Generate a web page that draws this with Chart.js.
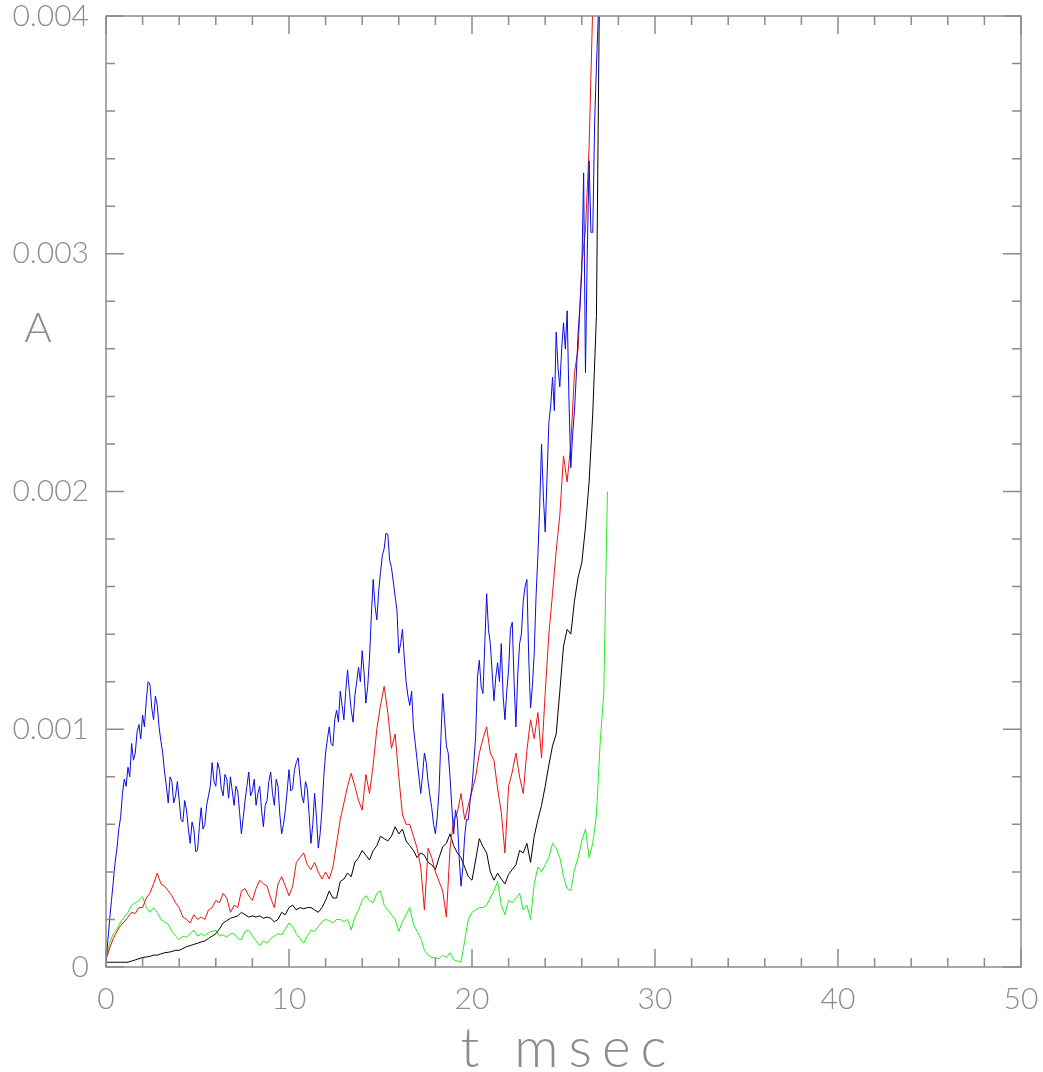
<!DOCTYPE html>
<html>
<head>
<meta charset="utf-8">
<script src="https://cdn.jsdelivr.net/npm/chart.js@4.4.1/dist/chart.umd.min.js"></script>
<style>
  html, body { margin: 0; padding: 0; background: #fff; }
</style>
</head>
<body>
<canvas id="amp" width="1043" height="1072"></canvas>
<script>
// time, msec, one sample every 0.2 msec (red, black, green)
const tGrid = [
  0,0.2,0.4,0.6,0.8, 1,1.2,1.4,1.6,1.8, 2,2.2,2.4,2.6,2.8, 3,3.2,3.4,3.6,3.8,
  4,4.2,4.4,4.6,4.8, 5,5.2,5.4,5.6,5.8, 6,6.2,6.4,6.6,6.8, 7,7.2,7.4,7.6,7.8,
  8,8.2,8.4,8.6,8.8, 9,9.2,9.4,9.6,9.8, 10,10.2,10.4,10.6,10.8, 11,11.2,11.4,11.6,11.8,
  12,12.2,12.4,12.6,12.8, 13,13.2,13.4,13.6,13.8, 14,14.2,14.4,14.6,14.8, 15,15.2,15.4,15.6,15.8,
  16,16.2,16.4,16.6,16.8, 17,17.2,17.4,17.6,17.8, 18,18.2,18.4,18.6,18.8, 19,19.2,19.4,19.6,19.8,
  20,20.2,20.4,20.6,20.8, 21,21.2,21.4,21.6,21.8, 22,22.2,22.4,22.6,22.8, 23,23.2,23.4,23.6,23.8,
  24,24.2,24.4,24.6,24.8, 25,25.2,25.4,25.6,25.8, 26,26.2,26.4,26.6,26.8, 27,27.2,27.4
];
// time, msec, one sample every 0.1 msec (blue, the noisiest trace)
const tFine = [
  0,0.1,0.2,0.3,0.4,0.5,0.6,0.7,0.8,0.9,
  1,1.1,1.2,1.3,1.4,1.5,1.6,1.7,1.8,1.9,
  2,2.1,2.2,2.3,2.4,2.5,2.6,2.7,2.8,2.9,
  3,3.1,3.2,3.3,3.4,3.5,3.6,3.7,3.8,3.9,
  4,4.1,4.2,4.3,4.4,4.5,4.6,4.7,4.8,4.9,
  5,5.1,5.2,5.3,5.4,5.5,5.6,5.7,5.8,5.9,
  6,6.1,6.2,6.3,6.4,6.5,6.6,6.7,6.8,6.9,
  7,7.1,7.2,7.3,7.4,7.5,7.6,7.7,7.8,7.9,
  8,8.1,8.2,8.3,8.4,8.5,8.6,8.7,8.8,8.9,
  9,9.1,9.2,9.3,9.4,9.5,9.6,9.7,9.8,9.9,
  10,10.1,10.2,10.3,10.4,10.5,10.6,10.7,10.8,10.9,
  11,11.1,11.2,11.3,11.4,11.5,11.6,11.7,11.8,11.9,
  12,12.1,12.2,12.3,12.4,12.5,12.6,12.7,12.8,12.9,
  13,13.1,13.2,13.3,13.4,13.5,13.6,13.7,13.8,13.9,
  14,14.1,14.2,14.3,14.4,14.5,14.6,14.7,14.8,14.9,
  15,15.1,15.2,15.3,15.4,15.5,15.6,15.7,15.8,15.9,
  16,16.1,16.2,16.3,16.4,16.5,16.6,16.7,16.8,16.9,
  17,17.1,17.2,17.3,17.4,17.5,17.6,17.7,17.8,17.9,
  18,18.1,18.2,18.3,18.4,18.5,18.6,18.7,18.8,18.9,
  19,19.1,19.2,19.3,19.4,19.5,19.6,19.7,19.8,19.9,
  20,20.1,20.2,20.3,20.4,20.5,20.6,20.7,20.8,20.9,
  21,21.1,21.2,21.3,21.4,21.5,21.6,21.7,21.8,21.9,
  22,22.1,22.2,22.3,22.4,22.5,22.6,22.7,22.8,22.9,
  23,23.1,23.2,23.3,23.4,23.5,23.6,23.7,23.8,23.9,
  24,24.1,24.2,24.3,24.4,24.5,24.6,24.7,24.8,24.9,
  25,25.1,25.2,25.3,25.4,25.5,25.6,25.7,25.8,25.9,
  26,26.1,26.2,26.3,26.4,26.5,26.6,26.7,26.8,26.9,
  27
];

// A values, in units of 1e-4
const blueA = [
  0.2,1.1,2.0,2.8,3.6,4.4,5.0,5.8,6.3,7.3,
  7.9,7.6,8.4,8.0,9.4,8.7,9.0,9.9,10.2,9.6,
  10.6,10.1,11.2,12.0,11.9,10.9,10.4,11.4,11.0,10.1,
  9.5,9.0,8.2,7.6,6.9,8.0,7.8,6.9,7.2,7.8,
  7.0,6.2,6.1,7.0,6.6,5.8,5.2,6.1,5.8,4.85,
  4.9,5.9,6.7,5.8,6.0,6.8,7.2,7.6,8.6,7.8,
  7.6,8.6,8.3,7.5,7.2,8.1,7.9,7.1,8.0,7.4,
  6.8,7.6,7.4,6.5,5.6,6.3,7.0,7.6,8.2,7.2,
  7.4,7.9,6.8,7.3,7.6,6.6,5.9,6.8,7.0,7.8,
  8.2,7.3,6.8,7.9,7.6,6.4,5.6,6.0,6.6,7.4,
  8.3,7.4,7.5,8.3,8.6,8.8,8.0,7.2,6.9,7.8,
  7.5,6.4,5.2,6.0,7.3,6.3,5.0,5.6,6.6,8.0,
  9.0,9.6,10.1,9.4,9.3,10.4,10.8,10.3,11.6,11.0,
  10.4,11.6,12.5,11.6,10.8,10.3,11.4,12.0,12.6,12.0,
  13.3,12.4,11.1,11.8,13.0,14.8,16.3,15.2,14.6,15.8,
  16.6,17.3,17.6,18.25,18.2,17.1,16.8,16.2,15.6,15.0,
  13.2,13.6,14.2,13.0,12.0,11.4,11.0,11.6,10.1,9.4,
  8.7,8.0,7.3,8.1,9.0,8.6,7.8,7.2,6.7,6.0,
  5.6,6.3,7.4,9.6,11.5,10.4,9.3,9.0,8.0,6.7,
  5.6,6.6,6.2,4.6,3.4,4.2,5.5,6.2,6.2,7.0,
  7.6,8.6,9.7,12.2,12.9,11.8,11.5,13.6,15.7,14.2,
  13.6,12.4,11.2,12.2,12.8,12.0,13.6,11.4,10.4,11.6,
  12.5,14.2,14.5,12.0,10.1,12.3,13.6,14.0,15.4,16.0,
  16.3,13.0,10.9,11.8,13.2,15.6,17.3,19.4,22.0,19.8,
  18.3,20.6,22.9,23.6,24.8,23.4,26.7,25.2,24.4,26.0,
  27.1,26.0,27.6,23.8,21.0,22.4,23.4,24.9,26.7,27.8,
  29.3,33.4,25.0,30.1,33.9,30.9,30.9,35.5,37.9,40.0,
  42
];
const redA = [
  0.3,0.8,1.2,1.5,1.75, 1.9,2.1,2.3,2.25,2.5, 2.5,2.9,3.1,3.5,3.95, 3.5,3.4,3.2,3.0,2.7,
  2.5,2.1,2.0,1.85,2.2, 2.0,2.1,2.0,2.4,2.5, 2.8,2.7,3.1,2.9,2.3, 2.6,2.5,3.2,3.3,3.0,
  2.8,3.3,3.65,3.5,3.4, 2.9,2.5,3.5,3.8,3.4, 3.0,3.4,4.4,4.6,4.8, 4.3,4.1,4.4,4.0,3.7,
  4.0,3.7,4.2,5.2,6.2, 6.9,7.6,8.15,7.6,7.0, 6.6,8.1,7.3,8.5,10.0, 11.0,11.8,10.7,9.2,9.8,
  8.0,6.4,6.0,6.0,5.5, 5.0,4.2,2.4,5.0,4.6, 4.0,3.6,3.2,2.1,5.0, 6.2,6.5,7.3,6.2,6.8,
  7.4,8.0,9.0,9.6,10.1, 9.0,8.7,7.5,6.5,4.8, 7.6,8.2,9.0,8.0,7.3, 9.1,10.4,9.6,10.7,8.8,
  11.5,14.0,15.7,17.5,19.0, 21.5,20.4,22.0,25.0,26.0, 29.6,31.0,34.5,40.5,44
];
const blackA = [
  0.2,0.2,0.2,0.2,0.2, 0.2,0.2,0.25,0.3,0.35, 0.4,0.42,0.45,0.5,0.5, 0.55,0.6,0.62,0.65,0.7,
  0.7,0.78,0.85,0.9,0.95, 1.0,1.05,1.1,1.2,1.3, 1.4,1.6,1.85,1.95,2.05, 2.1,2.15,2.3,2.2,2.1,
  2.15,2.1,2.15,2.05,2.1, 2.05,1.9,2.0,2.3,2.2, 2.5,2.6,2.4,2.5,2.45, 2.5,2.5,2.4,2.3,2.5,
  2.8,3.2,2.9,2.9,3.6, 3.7,3.95,3.8,4.4,4.6, 4.9,4.7,4.5,4.9,5.1, 5.5,5.4,5.3,5.5,5.9,
  5.6,5.8,5.3,5.1,4.9, 4.6,4.8,4.7,4.4,4.3, 4.1,4.6,5.06,5.2,5.6, 5.1,4.8,4.6,4.2,3.8,
  3.65,4.5,5.4,5.06,4.8, 4.0,3.65,3.95,3.7,3.5, 3.9,4.1,4.3,4.9,4.8, 5.2,4.4,5.5,6.2,6.8,
  7.6,8.5,9.3,9.8,11.6, 13.5,14.2,14.0,15.4,16.4, 17.0,18.5,20.4,23.3,27.4, 44
];
const greenA = [
  0.4,1.0,1.4,1.6,1.9, 2.1,2.3,2.6,2.7,2.8, 2.95,2.5,2.3,2.5,2.3, 2.0,1.9,1.8,1.5,1.3,
  1.15,1.3,1.25,1.4,1.55, 1.3,1.4,1.3,1.45,1.5, 1.55,1.3,1.35,1.25,1.4, 1.4,1.2,1.15,1.5,1.55,
  1.3,1.1,0.9,1.1,1.0, 1.2,1.3,1.4,1.35,1.6, 1.85,1.7,1.4,1.2,1.0, 1.3,1.55,1.5,1.7,1.9,
  2.0,1.95,1.85,2.0,2.0, 1.9,2.0,1.55,2.1,2.4, 2.8,3.0,2.8,2.7,3.1, 3.2,2.6,2.4,2.2,2.0,
  1.5,1.9,2.2,2.5,1.8, 1.5,1.2,0.7,0.5,0.4, 0.4,0.35,0.5,0.4,0.6, 0.3,0.25,0.2,1.1,2.0,
  2.3,2.4,2.5,2.5,2.6, 2.9,3.2,3.6,2.6,2.2, 2.8,2.7,2.9,3.1,2.4, 2.6,2.0,3.5,4.2,4.0,
  4.3,4.6,5.2,5.0,4.6, 3.8,3.3,3.2,4.1,4.6, 5.3,5.8,4.6,5.2,6.4, 9.4,11.5,20.0
];

const xTickLabels = [0, 10, 20, 30, 40, 50];
const yTickLabels = [0, 0.001, 0.002, 0.003, 0.004];
const xTitle = 't msec';
const yTitle = 'A';

const grey = '#8c8c8c';
const fontFamily = 'Lato, "DejaVu Sans", sans-serif';
const isMajor = (list, v) => list.some(m => Math.abs(m - v) < 1e-9);

// box round the plot, inward ticks on all four sides, and the axis titles
const frameTicks = {
  id: 'frameTicks',
  afterDatasetsDraw(chart) {
    const { ctx, chartArea: a, scales: { x, y } } = chart;
    ctx.save();
    ctx.strokeStyle = grey;
    ctx.lineWidth = 1.5;
    ctx.strokeRect(a.left, a.top, a.right - a.left, a.bottom - a.top);
    ctx.beginPath();
    x.ticks.forEach(t => {
      const px = x.getPixelForValue(t.value);
      const len = isMajor(xTickLabels, t.value) ? 18 : 9;
      ctx.moveTo(px, a.bottom); ctx.lineTo(px, a.bottom - len);
      ctx.moveTo(px, a.top); ctx.lineTo(px, a.top + len);
    });
    y.ticks.forEach(t => {
      const py = y.getPixelForValue(t.value);
      const len = isMajor(yTickLabels, t.value) ? 18 : 9;
      ctx.moveTo(a.left, py); ctx.lineTo(a.left + len, py);
      ctx.moveTo(a.right, py); ctx.lineTo(a.right - len, py);
    });
    ctx.stroke();

    ctx.fillStyle = grey;
    ctx.textAlign = 'center';
    ctx.textBaseline = 'alphabetic';
    ctx.font = '300 42px ' + fontFamily;
    ctx.fillText(yTitle, 38, 342);
    ctx.font = '300 55px ' + fontFamily;
    ctx.letterSpacing = '10px';
    ctx.fillText(xTitle, (a.left + a.right) / 2 + 5, 1067);
    ctx.restore();
  }
};

// keep tick labels from pushing the plot box inward
const noOverflow = s => {
  s.paddingTop = 0; s.paddingBottom = 0; s.paddingLeft = 0; s.paddingRight = 0;
};

const line = (label, t, arr, color) => ({
  label,
  data: arr.map((v, i) => ({ x: t[i], y: v * 1e-4 })),
  borderColor: color,
  borderWidth: 1,
  pointRadius: 0,
  tension: 0,
  fill: false
});

new Chart(document.getElementById('amp'), {
  type: 'line',
  data: {
    datasets: [
      line('blue', tFine, blueA, '#0a0ae6'),
      line('red', tGrid, redA, '#ee1111'),
      line('black', tGrid, blackA, '#000000'),
      line('green', tGrid, greenA, '#22ee22')
    ]
  },
  options: {
    responsive: false,
    animation: false,
    events: [],
    layout: { padding: { left: 0, right: 22, top: 16, bottom: 0 } },
    plugins: { legend: { display: false }, tooltip: { enabled: false } },
    scales: {
      x: {
        type: 'linear',
        min: 0,
        max: 50,
        grid: { display: false, drawTicks: false },
        border: { display: false },
        ticks: {
          stepSize: 2,
          autoSkip: false,
          maxRotation: 0,
          padding: 14,
          color: grey,
          font: { family: fontFamily, size: 30, weight: 300 },
          callback: v => isMajor(xTickLabels, v) ? String(v) : ''
        },
        afterFit: s => { s.height = 105; noOverflow(s); }
      },
      y: {
        type: 'linear',
        min: 0,
        max: 0.004,
        grid: { display: false, drawTicks: false },
        border: { display: false },
        ticks: {
          stepSize: 0.0002,
          autoSkip: false,
          padding: 17,
          color: grey,
          font: { family: fontFamily, size: 30, weight: 300 },
          callback: v => isMajor(yTickLabels, v) ? (v === 0 ? '0' : v.toFixed(3)) : ''
        },
        afterFit: s => { s.width = 106; noOverflow(s); }
      }
    }
  },
  plugins: [frameTicks]
});
</script>
</body>
</html>
